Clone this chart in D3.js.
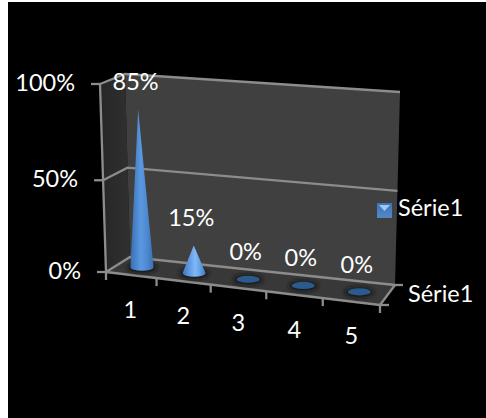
<!DOCTYPE html>
<html>
<head>
<meta charset="utf-8">
<script src="https://cdn.jsdelivr.net/npm/d3@7"></script>
<style>
  html, body { margin: 0; padding: 0; background: #fff; }
  svg { display: block; }
  text { font-family: Lato, "Open Sans", sans-serif; fill: #fff; }
</style>
</head>
<body>
<svg id="chart" width="486" height="418"></svg>
<script>
// Chart values
const categories = ["1", "2", "3", "4", "5"];
const values = [85, 15, 0, 0, 0];
const valueTicks = [0, 50, 100];
const seriesName = "Série1";

const svg = d3.select("#chart");
const W = 486, H = 418;
const FONT = 23.5;

// Corners of the 3D box as they land on screen: [x, y]
const box = {
  frontLeft:  { base: [106, 272], top: [100, 84] },
  backLeft:   { base: [130, 257], top: [125, 74] },
  backRight:  { base: [395, 285], top: [400, 92] },
  frontRight: { base: [380, 305], top: [385, 107] }
};

// Axis scales, all normalised to the unit box
const along = d3.scalePow().exponent(1.05).domain([0, categories.length]).range([0, 1]);
const height = d3.scaleLinear().domain([0, 50, 100]).range([0, 0.488, 1]);

const mix = (a, b, t) => [a[0] + (b[0] - a[0]) * t, a[1] + (b[1] - a[1]) * t];

// u: left to right, depth: 0 at the front and 1 at the back, v: floor to ceiling
function project(u, depth, v) {
  const level = k => mix(
    mix(box.frontLeft[k], box.frontRight[k], u),
    mix(box.backLeft[k], box.backRight[k], u),
    depth
  );
  return mix(level("base"), level("top"), v);
}
const P = (u, d, value) => project(u, d, height(value));
const line = pts => d3.line()(pts);
const poly = pts => d3.line()(pts) + "Z";

const defs = svg.append("defs");

function hGradient(id, stops) {
  const g = defs.append("linearGradient").attr("id", id)
    .attr("x1", 0).attr("x2", 1).attr("y1", 0).attr("y2", 0);
  stops.forEach(([o, c]) => g.append("stop").attr("offset", o).attr("stop-color", c));
}
hGradient("coneTall", [[0, "#3a70b4"], [0.45, "#5a98e0"], [0.7, "#4f8ad2"], [1, "#3a70b4"]]);
hGradient("coneShort", [[0, "#3e78c0"], [0.55, "#80b8f8"], [0.75, "#66a2ea"], [1, "#3e78c0"]]);
hGradient("sideWall", [[0, "#262626"], [1, "#303030"]]);
defs.append("filter").attr("id", "soft").attr("x", "-40%").attr("y", "-80%")
  .attr("width", "180%").attr("height", "260%")
  .append("feGaussianBlur").attr("stdDeviation", 2.2);

// Page background: white margin on the left and top, black panel
svg.append("rect").attr("width", W).attr("height", H).attr("fill", "#fff");
svg.append("rect").attr("x", 8).attr("y", 2).attr("width", W - 8).attr("height", H - 2).attr("fill", "#000");

// Walls and floor
svg.append("path").attr("fill", "url(#sideWall)")
  .attr("d", poly([box.frontLeft.base, box.frontLeft.top, box.backLeft.top, box.backLeft.base]));
svg.append("path").attr("fill", "#404040")
  .attr("d", poly([box.backLeft.base, box.backLeft.top, box.backRight.top, box.backRight.base]));
svg.append("path").attr("fill", "#383838")
  .attr("d", poly([box.frontLeft.base, box.backLeft.base, box.backRight.base, box.frontRight.base]));

const AXIS = "#8c8c8c";
const drawLine = (pts, w = 2.3) => svg.append("path").attr("d", line(pts))
  .attr("fill", "none").attr("stroke", AXIS).attr("stroke-width", w);

// Gridlines wrap around the side wall and back wall
valueTicks.forEach(t => {
  drawLine([P(0, 0, t), P(0, 1, t), P(1, 1, t)]);
});

// Value axis with outward ticks and labels
drawLine([P(0, 0, 0), P(0, 0, 100)]);
valueTicks.forEach(t => {
  const p = P(0, 0, t);
  drawLine([[p[0] - 9, p[1]], p]);
  svg.append("text").attr("x", p[0] - 25).attr("y", p[1] + 1)
    .attr("text-anchor", "end").attr("dominant-baseline", "middle")
    .attr("font-size", FONT).text(t + "%");
});

// Category axis along the front edge of the floor
drawLine([project(0, 0, 0), project(1, 0, 0)]);
d3.range(categories.length + 1).forEach(i => {
  const p = project(along(i), 0, 0);
  drawLine([p, [p[0], p[1] + 8]]);
});

// Depth axis on the right edge of the floor
drawLine([box.frontRight.base, box.backRight.base]);
drawLine([box.frontRight.base, [box.frontRight.base[0] + 9, box.frontRight.base[1]]]);
drawLine([box.backRight.base, [box.backRight.base[0] + 8, box.backRight.base[1]]]);
svg.append("text").attr("x", 408).attr("y", 296)
  .attr("dominant-baseline", "middle").attr("font-size", FONT).text(seriesName);

// Cones stand in the middle of the floor's depth
const marks = categories.map((c, i) => {
  const u = along(i + 0.5);
  const base = project(u, 0.5, 0);
  const apex = P(u, 0.5, values[i]);
  return { c, value: values[i], u, base, apex };
});
const RX = 11.5, RY = 3.6;

// Soft contact shadows on the floor
svg.append("g").selectAll("ellipse").data(marks).join("ellipse")
  .attr("cx", d => d.base[0]).attr("cy", d => d.base[1] + 0.5)
  .attr("rx", RX + 3).attr("ry", RY + 1.5)
  .attr("fill", "#151515").attr("filter", "url(#soft)");

svg.append("g").selectAll("path").data(marks).join("path")
  .attr("d", d => {
    const [bx, by] = d.base;
    if (d.value === 0) {
      return `M${bx - RX},${by}A${RX},${RY} 0 1 0 ${bx + RX},${by}A${RX},${RY} 0 1 0 ${bx - RX},${by}Z`;
    }
    const [ax, ay] = d.apex;
    return `M${ax},${ay}L${bx - RX},${by}A${RX},${RY} 0 0 0 ${bx + RX},${by}Z`;
  })
  .attr("fill", d => d.value === 0 ? "#2a5a8e" : d.value > 50 ? "url(#coneTall)" : "url(#coneShort)");

// Value labels above each cone
svg.append("g").selectAll("text").data(marks).join("text")
  .attr("x", d => d.apex[0] - 2.5).attr("y", d => d.apex[1] - 25)
  .attr("text-anchor", "middle").attr("dominant-baseline", "middle")
  .attr("font-size", FONT).text(d => d.value + "%");

// Category labels under the front edge
svg.append("g").selectAll("text").data(marks).join("text")
  .attr("x", d => project(d.u, 0, 0)[0]).attr("y", d => project(d.u, 0, 0)[1] + 37)
  .attr("text-anchor", "middle").attr("dominant-baseline", "middle")
  .attr("font-size", FONT).text(d => d.c);

// Legend key: bevelled square with a lighter inverted triangle
const key = svg.append("g").attr("transform", "translate(377,203)");
const keyFill = defs.append("linearGradient").attr("id", "keyFill")
  .attr("x1", 0).attr("x2", 0).attr("y1", 0).attr("y2", 1);
keyFill.append("stop").attr("offset", 0).attr("stop-color", "#3f74b4");
keyFill.append("stop").attr("offset", 1).attr("stop-color", "#5288c8");
key.append("rect").attr("width", 15).attr("height", 15).attr("fill", "url(#keyFill)");
key.append("path").attr("d", "M2,2L13,2L7.5,8Z").attr("fill", "#9cc8f4");
svg.append("text").attr("x", 398).attr("y", 210)
  .attr("dominant-baseline", "middle").attr("font-size", FONT).text(seriesName);
</script>
</body>
</html>
